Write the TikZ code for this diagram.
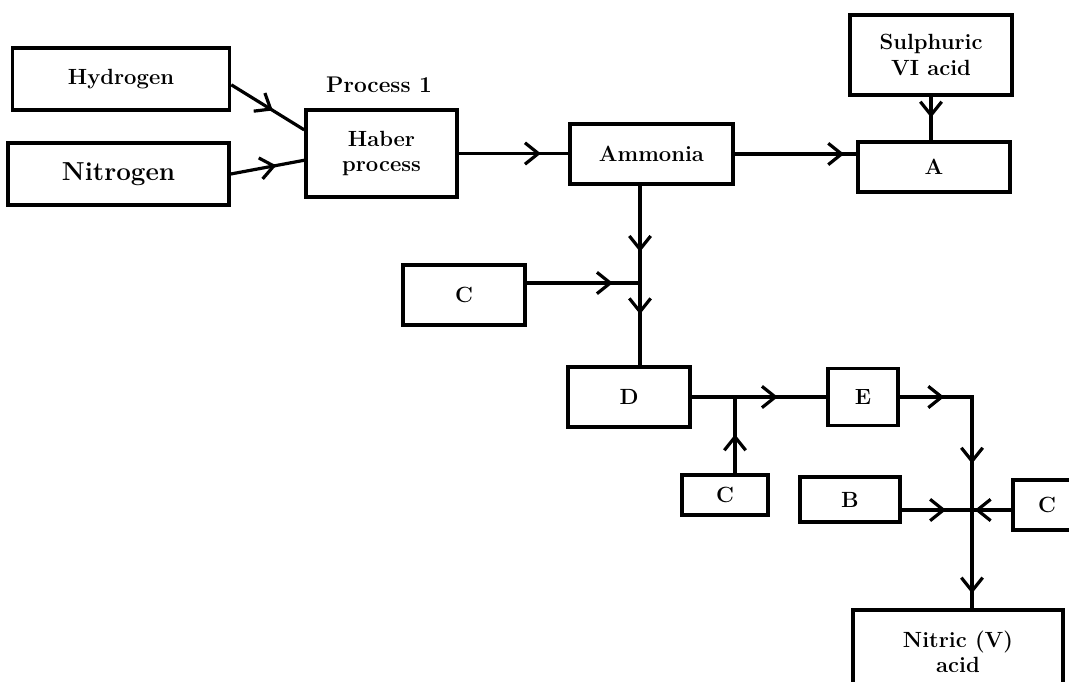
\documentclass[tikz,border=0pt]{standalone}
\usepackage{tikz}
\usetikzlibrary{arrows.meta}
\usetikzlibrary{decorations.markings}
\tikzset{chev/.tip={Straight Barb[length=10pt,width=16pt,line width=2.4pt]}}
\tikzset{
blk/.style = {draw, line width=2.6pt, align=center, inner sep=0pt,
              font=\fontsize{16.5}{19}\selectfont\bfseries},
flow/.style = {line width=2.4pt},
arrow at/.style = {postaction={decorate, decoration={markings,
                   mark=at position #1 with {\arrow{chev}}}}}
}

\begin{document}
\begin{tikzpicture}[x=0.75pt, y=-0.75pt]
    \clip (0,0) rectangle (1069,681);

    \node[blk, minimum width=162.8pt, minimum height=46.5pt] (hyd) at (121,79) {Hydrogen};
    \node[blk, minimum width=165.8pt, minimum height=46.5pt,
          font=\fontsize{19.5}{21}\selectfont\bfseries] (nit) at (118.5,174) {Nitrogen};
    \node[blk, minimum width=113.3pt, minimum height=65.3pt] (haber) at (381.5,153.5) {Haber\\process};
    \node[font=\fontsize{17}{19}\selectfont\bfseries] (proc) at (379,85) {Process 1};
    \node[blk, minimum width=122.3pt, minimum height=45pt] (amm) at (651.5,154) {Ammonia};
    \node[blk, minimum width=121.5pt, minimum height=60pt] (sulph) at (931,55) {Sulphuric\\VI acid};
    \node[blk, minimum width=114pt, minimum height=37.5pt] (A) at (934,167) {A};
    \node[blk, minimum width=91.5pt, minimum height=45pt] (C1) at (464,295) {C};
    \node[blk, minimum width=91.5pt, minimum height=45pt] (D) at (629,397) {D};
    \node[blk, minimum width=52.5pt, minimum height=42.8pt] (E) at (863,397) {E};
    \node[blk, minimum width=64.5pt, minimum height=30pt] (C2) at (725,495) {C};
    \node[blk, minimum width=75pt, minimum height=33.8pt] (B) at (850,499.5) {B};
    \node[blk, minimum width=51pt, minimum height=37.5pt] (C3) at (1047,505) {C};
    \node[blk, minimum width=157.5pt, minimum height=63pt] (nitric) at (958,652) {Nitric (V)\\acid};

    % junctions
    \coordinate (j1) at (640,283);
    \coordinate (j2) at (735,397);
    \coordinate (j3) at (972,510);
    \coordinate (bend) at (972,397);

    \draw[flow, arrow at=0.57] (hyd.-3) -- (haber.163);
    \draw[flow, arrow at=0.62] (nit.east) -- (haber.185);
    \draw[flow, arrow at=0.75] (haber.east) -- (haber.east -| amm.west);
    \draw[flow, arrow at=0.9] (amm.east) -- (amm.east -| A.west);
    \draw[flow, arrow at=0.48] (sulph.south) -- (sulph.south |- A.north);

    \draw[flow, arrow at=0.68] (amm.south -| j1) -- (j1);
    \draw[flow, arrow at=0.76] (C1.east |- j1) -- (j1);
    \draw[flow, arrow at=0.38] (j1) -- (D.north -| j1);

    \draw[flow, arrow at=0.64] (D.east) -- (E.west);
    \draw[flow, arrow at=0.51] (C2.north -| j2) -- (j2);
    \draw[flow, arrow at=0.24, arrow at=0.75] (E.east) -- (bend) -- (j3);
    \draw[flow, arrow at=0.63] (B.east |- j3) -- (j3);
    \draw[flow, arrow at=0.93] (C3.west |- j3) -- (j3);
    \draw[flow, arrow at=0.85] (j3) -- (nitric.north -| j3);
\end{tikzpicture}
\end{document}
